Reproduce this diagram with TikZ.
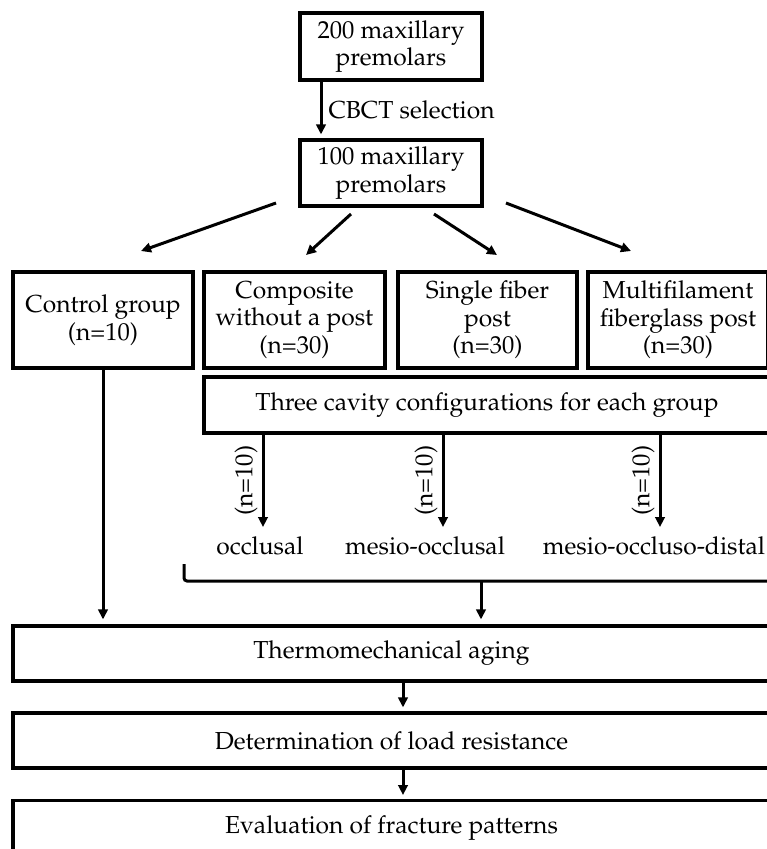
\documentclass[tikz,border=0pt]{standalone}
\usepackage[T1]{fontenc}
\usepackage{mathpazo}
\usetikzlibrary{arrows.meta}
\newcommand{\fsz}{\fontsize{24.6}{27.5}\selectfont}
\tikzset{
  box/.style={draw, line width=3.2pt, inner sep=0pt, align=center, font=\fsz},
  lbl/.style={inner sep=0pt, font=\fsz},
  arr/.style={line width=3pt, -{Triangle[length=10pt,width=9.5pt]}},
}
\begin{document}
\begin{tikzpicture}[x=1pt, y=-1pt]
\useasboundingbox (0,0) rectangle (767,849);
\fill[white] (0,0) rectangle (767,849);
\clip (0,0) rectangle (767,849);

% top boxes
\node[box, minimum width=182pt, minimum height=67pt] (b1) at (391,46.5) {200 maxillary\\premolars};
\node[box, minimum width=182pt, minimum height=66pt] (b2) at (391,173) {100 maxillary\\premolars};
\draw[arr, shorten >=4pt] ([xshift=-70pt]b1.south) -- ([xshift=-70pt]b2.north)
  node[lbl, midway, anchor=west, xshift=6pt] (cbct) {CBCT selection};

% groups
\node[box, minimum width=180pt, minimum height=96pt] (ctrl) at (103,320) {Control group\\(n=10)};
\node[box, minimum width=181pt, minimum height=96pt] (comp) at (294.5,320) {Composite\\without a post\\(n=30)};
\node[box, minimum width=179pt, minimum height=96pt] (single) at (487.5,320) {Single fiber\\post\\(n=30)};
\node[box, minimum width=180pt, minimum height=96pt] (multi) at (678,320) {Multifilament\\fiberglass post\\(n=30)};

% diagonal arrows
\coordinate (d1s) at (276,203); \coordinate (d1e) at (141,251);
\coordinate (d2s) at (351,214); \coordinate (d2e) at (306,255);
\coordinate (d3s) at (434,214); \coordinate (d3e) at (497,255);
\coordinate (d4s) at (506,203); \coordinate (d4e) at (631,251);
\draw[arr] (d1s) -- (d1e);
\draw[arr] (d2s) -- (d2e);
\draw[arr] (d3s) -- (d3e);
\draw[arr] (d4s) -- (d4e);

% cavity configurations
\node[box, minimum width=566pt, minimum height=56pt] (cav) at (487,405) {Three cavity configurations for each group};
\coordinate (c1) at (263,527);
\coordinate (c2) at (443,527);
\coordinate (c3) at (660,527);
\draw[arr] (cav.south -| c1) -- (c1) node[lbl, rotate=90, pos=0.5, yshift=17pt] (n1) {(n=10)};
\draw[arr] (cav.south -| c2) -- (c2) node[lbl, rotate=90, pos=0.5, yshift=17pt] (n2) {(n=10)};
\draw[arr] (cav.south -| c3) -- (c3) node[lbl, rotate=90, pos=0.5, yshift=17pt] (n3) {(n=10)};
\node[lbl] (occ) at (260,546) {occlusal};
\node[lbl] (mo) at (425,546) {mesio-occlusal};
\node[lbl] (mod) at (654,546) {mesio-occluso-distal};

% bracket
\coordinate (brL) at (184,564);
\coordinate (brC) at (184,581);
\coordinate (brR) at (790,581);
\coordinate (brM) at (481,581);
\draw[line width=3pt, rounded corners=3pt] (brL) -- (brC) -- (brR);

% bottom chain
\node[box, minimum width=757pt, minimum height=55pt] (thermo) at (391.5,653.5) {Thermomechanical aging};
\node[box, minimum width=757pt, minimum height=55pt] (load) at (391.5,740.5) {Determination of load resistance};
\node[box, minimum width=757pt, minimum height=56pt, anchor=north] (frac) at (391.5,799) {\raisebox{8pt}{Evaluation of fracture patterns}};

\draw[arr, shorten >=5pt] (brM) -- (thermo.north -| brM);
\draw[arr, shorten >=5pt] (ctrl.south) -- (thermo.north -| ctrl.south);
\draw[arr, shorten >=4pt] ([xshift=11.5pt]thermo.south) -- ([xshift=11.5pt]load.north);
\draw[arr, shorten >=4pt] ([xshift=11.5pt]load.south) -- ([xshift=11.5pt]frac.north);
\end{tikzpicture}
\end{document}
